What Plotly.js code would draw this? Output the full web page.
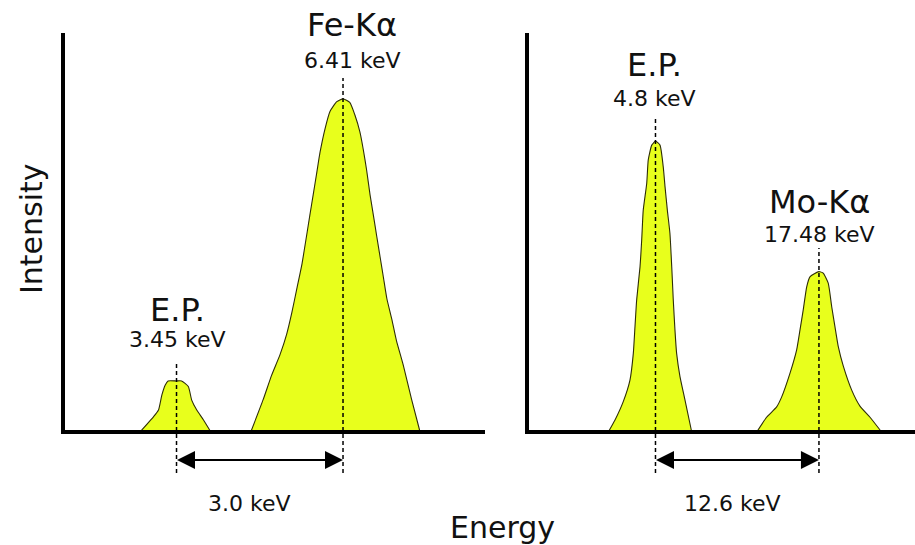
<!DOCTYPE html>
<html>
<head>
<meta charset="utf-8">
<script src="https://cdn.plot.ly/plotly-3.0.1.min.js"></script>
<style>
html,body{margin:0;padding:0;background:#fff;}
#chart{width:915px;height:545px;}
</style>
</head>
<body>
<div id="chart"></div>
<script>
// ---------- data (energy in keV, intensity in arbitrary units 0-100) ----------
// Left panel: escape peak of Fe and Fe-Kα
const epLeftE = [2.80, 3.04, 3.13, 3.19, 3.25, 3.30, 3.45, 3.54, 3.66, 3.72, 3.81, 3.93, 4.06];
const epLeftI = [0, 3.8, 5.5, 9.3, 11.8, 12.8, 12.8, 12.8, 11.4, 8.0, 5.5, 3.0, 0];

const feE = [4.77, 4.99, 5.14, 5.29, 5.41, 5.50, 5.59, 5.68, 5.76, 5.82, 5.88, 5.94, 6.00, 6.09, 6.18, 6.30, 6.41,
             6.53, 6.62, 6.71, 6.77, 6.83, 6.89, 6.95, 7.01, 7.07, 7.13, 7.19, 7.28, 7.36, 7.48, 7.63, 7.78];
const feI = [0, 8.1, 14.2, 19.4, 24.6, 29.9, 36.0, 42.1, 49.0, 54.3, 59.5, 64.7, 70.0, 76.0, 80.4, 82.8, 83.5,
             82.6, 79.5, 75.2, 70.8, 65.6, 59.5, 54.3, 49.0, 43.8, 38.6, 33.4, 28.1, 22.9, 16.8, 8.1, 0];

// Right panel: escape peak of Mo and Mo-Kα
const epRightE = [1.14, 1.66, 2.30, 2.82, 3.08, 3.21, 3.34, 3.60, 3.73, 3.85, 4.12, 4.24, 4.51, 4.80,
                  5.15, 5.40, 5.54, 5.72, 5.92, 6.06, 6.18, 6.31, 6.44, 6.70, 7.09, 7.61];
const epRightI = [0, 3.0, 7.6, 13.0, 19.7, 26.4, 33.1, 41.4, 48.1, 55.6, 62.3, 68.2, 71.9, 72.9,
                  71.9, 66.5, 61.5, 55.6, 49.8, 41.4, 33.1, 25.6, 19.7, 13.9, 8.0, 0];

const moE = [12.65, 13.42, 14.20, 14.59, 15.23, 15.75, 16.01, 16.26, 16.53, 16.78, 17.48,
             17.81, 18.20, 18.47, 18.72, 18.98, 19.37, 20.02, 20.66, 21.44, 22.34];
const moI = [0, 3.7, 6.3, 8.8, 14.7, 20.6, 25.6, 30.6, 36.4, 38.9, 40.2,
             39.8, 37.3, 31.4, 26.4, 21.4, 16.5, 10.5, 6.5, 3.7, 0];

// Peak positions, labels, guide-line tops
const leftPeakE = [3.45, 6.41];
const rightPeakE = [4.8, 17.48];
const leftNames = ['E.P.', 'Fe-Kα'];
const rightNames = ['E.P.', 'Mo-Kα'];
const leftKeV = ['3.45 keV', '6.41 keV'];
const rightKeV = ['4.8 keV', '17.48 keV'];
const leftNameY = [30.7, 102.0];
const rightNameY = [92.0, 57.6];
const leftKeVY = [23.2, 93.0];
const rightKeVY = [83.6, 49.5];
const leftGuideTop = [17.3, 88.7];
const rightGuideTop = [78.7, 46.1];
const separations = ['3.0 keV', '12.6 keV'];

const guideBottom = -10.3;
const arrowY = -7.0;
const sepY = -18.0;

// ---------- styling ----------
const FILL = '#E8FF1C';
const EDGE = '#2e2e06';
const FONT = 'DejaVu Sans, Arial, sans-serif';

function peakTrace(x, y, xa, ya) {
  return {type:'scatter', mode:'lines', x:x, y:y, xaxis:xa, yaxis:ya,
          fill:'tozeroy', fillcolor:FILL, line:{color:EDGE, width:1.1, shape:'spline', smoothing:0.5},
          hoverinfo:'skip', showlegend:false};
}
function guideTrace(xv, top, xa, ya) {
  return {type:'scatter', mode:'lines', x:[xv, xv], y:[guideBottom, top], xaxis:xa, yaxis:ya,
          line:{color:'#000', width:1.5, dash:'4px,3px'}, hoverinfo:'skip', showlegend:false};
}

const traces = [
  peakTrace(epLeftE, epLeftI, 'x', 'y'),
  peakTrace(feE, feI, 'x', 'y'),
  peakTrace(epRightE, epRightI, 'x2', 'y2'),
  peakTrace(moE, moI, 'x2', 'y2')
];
leftPeakE.forEach((e, i) => traces.push(guideTrace(e, leftGuideTop[i], 'x', 'y')));
rightPeakE.forEach((e, i) => traces.push(guideTrace(e, rightGuideTop[i], 'x2', 'y2')));

const annotations = [];
function addLabels(peaks, names, nameY, kev, kevY, xr, yr, shifts) {
  peaks.forEach((e, i) => {
    annotations.push({xref:xr, yref:yr, x:e, y:nameY[i], text:names[i], showarrow:false,
                      xanchor:'center', yanchor:'middle',
                      xshift:shifts[i], font:{family:FONT, size:32, color:'#111'}});
    annotations.push({xref:xr, yref:yr, x:e, y:kevY[i], text:kev[i], showarrow:false,
                      xanchor:'center', yanchor:'middle',
                      xshift:shifts[i], font:{family:FONT, size:22, color:'#111'}});
  });
}
addLabels(leftPeakE, leftNames, leftNameY, leftKeV, leftKeVY, 'x', 'y', [1, 9]);
addLabels(rightPeakE, rightNames, rightNameY, rightKeV, rightKeVY, 'x2', 'y2', [-1, 1]);

function addArrow(peaks, xr, yr, label, sx) {
  annotations.push({xref:xr, yref:yr, axref:xr, ayref:yr, x:peaks[1], y:arrowY, ax:peaks[0], ay:arrowY,
                    text:'', showarrow:true, arrowhead:2, startarrowhead:2, arrowside:'end+start',
                    arrowsize:1.8, startarrowsize:1.8, arrowwidth:2, arrowcolor:'#000',
                    standoff:0, startstandoff:0, font:{size:1}, borderpad:0});
  annotations.push({xref:xr, yref:yr, x:(peaks[0] + peaks[1]) / 2, y:sepY, text:label, showarrow:false,
                    xanchor:'center', yanchor:'middle',
                    xshift:sx, font:{family:FONT, size:22, color:'#111'}});
}
addArrow(leftPeakE, 'x', 'y', separations[0], -10);
addArrow(rightPeakE, 'x2', 'y2', separations[1], -5);

annotations.push({xref:'paper', yref:'paper', x:0.0339, y:0.5798, text:'Intensity', textangle:-90,
                  xanchor:'center', yanchor:'middle',
                  showarrow:false, font:{family:FONT, size:30, color:'#111'}});
annotations.push({xref:'paper', yref:'paper', x:0.5497, y:0.033, text:'Energy',
                  xanchor:'center', yanchor:'middle',
                  showarrow:false, font:{family:FONT, size:30, color:'#111'}});

const YDOM = [0.00967, 0.998];
const YRANGE = [-27, 108];

const layout = {
  width:915, height:545,
  margin:{l:0, r:0, t:0, b:0, pad:0},
  paper_bgcolor:'#ffffff', plot_bgcolor:'rgba(0,0,0,0)',
  showlegend:false,
  font:{family:FONT},
  xaxis:{domain:[0.06885, 0.53005], range:[1.432, 8.934], visible:false, anchor:'y'},
  yaxis:{domain:YDOM, range:YRANGE, visible:false, anchor:'x'},
  xaxis2:{domain:[0.57596, 1], range:[-5.166, 24.93], visible:false, anchor:'y2'},
  yaxis2:{domain:YDOM, range:YRANGE, visible:false, anchor:'x2'},
  shapes:[
    {type:'path', xref:'x domain', yref:'y', path:'M0,100 L0,0 L1,0', line:{color:'#000', width:4}, layer:'above'},
    {type:'path', xref:'x2 domain', yref:'y2', path:'M0,100 L0,0 L1,0', line:{color:'#000', width:4}, layer:'above'}
  ],
  annotations:annotations
};

Plotly.newPlot('chart', traces, layout, {staticPlot:true, displayModeBar:false});
</script>
</body>
</html>
